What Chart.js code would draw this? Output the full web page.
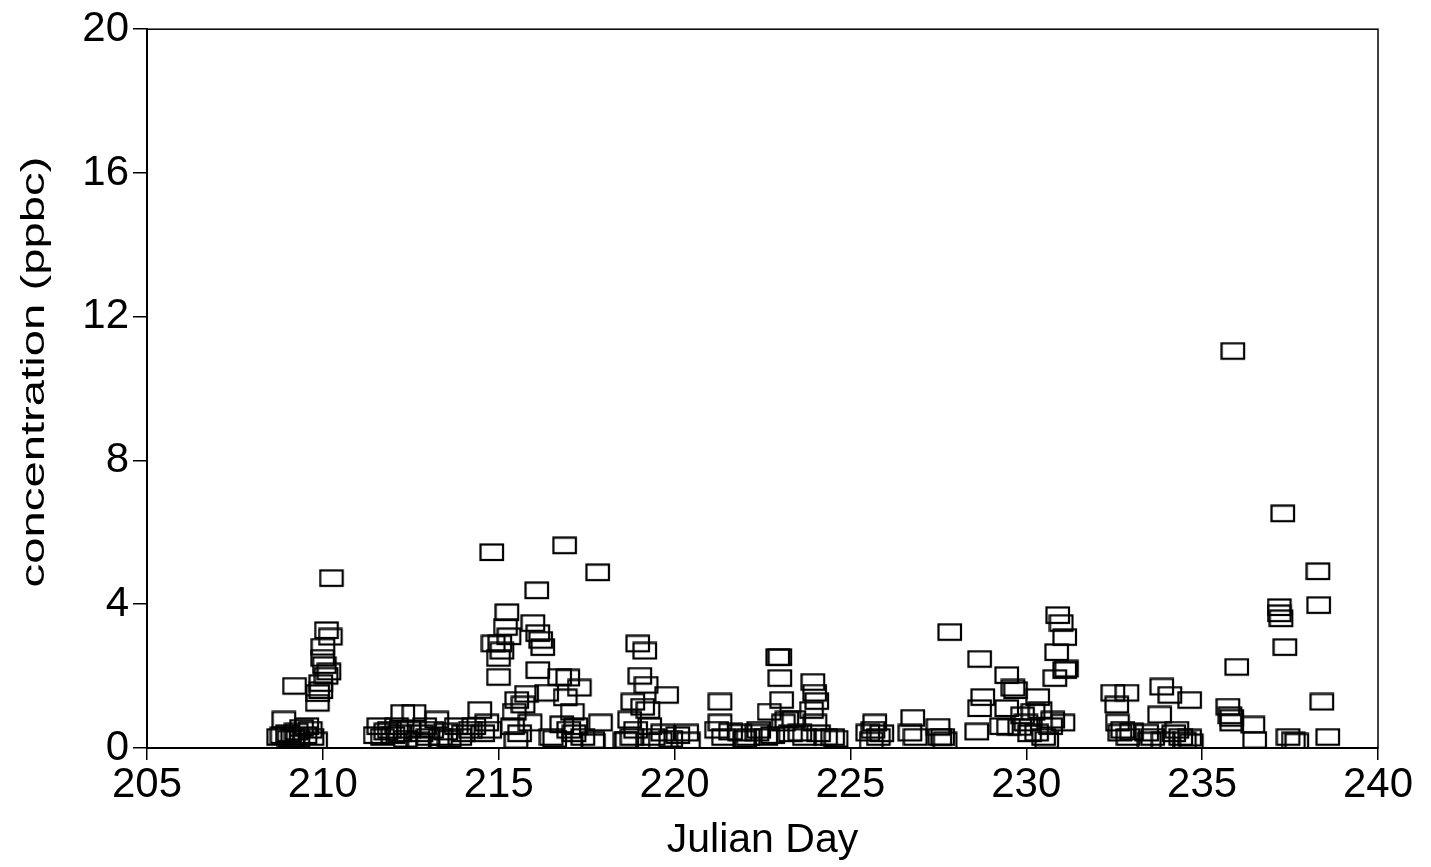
<!DOCTYPE html>
<html>
<head>
<meta charset="utf-8">
<script src="https://cdn.jsdelivr.net/npm/chart.js@4/dist/chart.umd.min.js"></script>
<style>
  html, body { margin: 0; padding: 0; background: #fff; }
  #wrap { width: 1431px; height: 867px; position: relative; }
</style>
</head>
<body>
<div id="wrap"><canvas id="c"></canvas></div>
<script>
// Dzień juliański i stężenie (ppbc), punkt po punkcie.
const days = [
  208.75, 208.85, 208.9, 209.0, 209.05, 209.15, 209.25, 209.3, 209.4, 209.5, 209.55, 209.65, 209.7, 209.8, 209.2,
  209.85, 209.86, 209.95, 210.18, 210.0, 210.01, 210.11, 210.22, 210.25, 210.05, 209.95, 210.1,
  211.5, 211.6, 211.7, 211.8, 211.9, 212.0, 212.1, 212.2, 212.28, 212.35, 212.45, 212.6, 212.7, 212.75, 212.8,
  212.9, 213.0, 213.1, 213.25, 213.35, 213.5, 213.6, 213.8, 213.9, 214.0, 214.2, 214.3, 214.47, 214.55, 214.67, 214.75,
  214.81, 214.85, 215.04, 215.0, 215.1, 215.0, 215.24, 215.2, 215.3, 215.52, 215.45, 215.4, 215.5, 215.6, 215.7,
  215.8, 215.9, 215.98, 216.09, 216.12, 216.26, 216.12, 216.2, 216.37, 216.5, 216.6, 216.74, 216.8, 216.88, 216.9,
  216.97, 217.0, 217.1, 217.15, 217.2, 217.3, 217.4, 217.68, 217.82, 217.9, 217.7,
  218.6, 218.65, 218.73, 218.8, 218.82, 218.9, 218.96, 219.02, 219.1, 219.16, 219.2, 219.25, 219.3, 219.4, 219.6,
  219.67, 219.78, 219.9, 220.1, 220.35, 220.4,
  221.2, 221.3, 221.3, 221.4, 221.6, 221.87, 222.0, 222.1, 222.35, 222.4, 222.6, 222.7, 222.8, 222.94, 223.0,
  223.0, 223.05, 223.1, 223.2, 223.3, 223.4, 223.57, 223.7, 223.9, 223.94, 223.99, 224.0, 224.05, 224.1, 224.3,
  224.5, 224.6,
  225.5, 225.6, 225.65, 225.7, 225.8, 225.9,
  226.7, 226.78, 226.85, 227.5, 227.55, 227.63, 227.7, 227.83,
  228.6, 228.68, 228.68, 228.77, 229.3, 229.45, 229.45, 229.5, 229.63, 229.7, 229.82, 229.9, 230.0, 230.1, 230.2,
  230.3, 230.33, 230.4, 230.5, 230.59, 230.7, 230.76, 230.82, 230.87, 230.9, 231.0, 231.1, 231.1, 231.05, 231.15,
  232.47, 232.58, 232.6, 232.67, 232.75, 232.87, 232.9, 233.0, 233.43, 233.5, 233.6, 233.8, 233.86, 233.9, 234.09,
  234.2, 234.29, 234.4, 234.5, 234.65, 234.65, 234.7,
  235.74, 235.8, 235.85, 235.85, 235.88, 235.99, 236.45, 236.5, 237.2, 237.2, 237.25, 237.3, 237.36, 237.45, 237.6,
  237.7, 238.3, 238.32, 238.41, 238.58
];
const ppbc = [
  0.3, 0.35, 0.78, 0.4, 0.25, 0.3, 0.45, 0.25, 0.55, 0.35, 0.6, 0.5, 0.3, 0.2, 1.72,
  1.25, 1.52, 1.8, 2.12, 2.5, 2.81, 3.27, 3.09, 4.72, 2.3, 1.6, 2.0,
  0.35, 0.6, 0.3, 0.45, 0.5, 0.35, 0.6, 0.4, 0.97, 0.25, 0.5, 0.97, 0.2, 0.1, 0.4,
  0.6, 0.3, 0.5, 0.78, 0.3, 0.45, 0.25, 0.6, 0.3, 0.4, 0.5, 0.6, 1.05, 0.4, 0.7, 0.5,
  5.44, 2.9, 2.9, 2.5, 2.7, 1.97, 3.77, 3.36, 3.1, 1.33, 1.0, 0.6, 0.22, 0.4, 1.2,
  1.5, 0.7, 3.47, 4.38, 3.19, 2.8, 2.16, 3.0, 1.53, 0.3, 0.25, 1.97, 0.65, 5.63, 1.4,
  1.95, 0.5, 1.0, 0.4, 0.6, 1.67, 0.3, 0.22, 4.88, 0.7, 0.15,
  0.2, 0.22, 0.78, 0.3, 1.28, 0.5, 2.9, 2.0, 1.14, 2.7, 1.75, 1.05, 0.6, 0.3, 0.2,
  0.42, 1.47, 0.25, 0.35, 0.42, 0.2,
  0.5, 1.28, 0.7, 0.3, 0.45, 0.42, 0.25, 0.3, 0.42, 0.5, 0.3, 1.0, 0.35, 2.52, 2.52,
  1.94, 1.33, 0.7, 0.78, 0.4, 0.8, 0.42, 0.3, 1.05, 1.83, 1.53, 0.7, 1.3, 0.4, 0.3,
  0.3, 0.25,
  0.42, 0.2, 0.5, 0.7, 0.3, 0.4,
  0.42, 0.83, 0.3, 0.58, 0.3, 0.3, 0.2, 3.22,
  0.45, 1.1, 2.47, 1.41, 0.6, 2.02, 1.1, 0.58, 1.67, 1.6, 0.58, 0.9, 0.7, 0.4, 1.0,
  0.42, 1.41, 1.05, 0.3, 0.22, 0.6, 0.78, 1.94, 2.66, 3.69, 3.47, 3.08, 2.16, 0.7, 2.2,
  1.53, 1.2, 0.7, 0.42, 0.5, 1.53, 0.3, 0.45, 0.42, 0.2, 0.3, 0.92, 1.7, 0.2, 1.47,
  0.4, 0.5, 0.3, 0.2, 1.33, 0.28, 0.15,
  1.14, 0.9, 0.83, 0.7, 11.04, 2.25, 0.64, 0.22, 3.91, 3.74, 3.6, 6.52, 2.8, 0.3, 0.2,
  0.17, 4.91, 3.97, 1.28, 0.3
];
const xTicks = [205, 210, 215, 220, 225, 230, 235, 240];
const yTicks = [0, 4, 8, 12, 16, 20];
const yTitle = "concentration (ppbc)";

// Pusty prostokąt jako znacznik (szerszy niż wyższy, jak w oryginale).
const marker = document.createElement("canvas");
marker.width = 26; marker.height = 19;
const m = marker.getContext("2d");
m.strokeStyle = "#000"; m.lineWidth = 2.2;
m.strokeRect(1.5, 1.5, 22.5, 15.5);

const FONT = "'Liberation Sans', Arial, Helvetica, sans-serif";

// Ramka wokół obszaru wykresu + tytuł osi Y (w oryginale rozciągnięty wzdłuż osi).
const frame = {
  id: "frame",
  afterDraw(chart) {
    const { ctx, chartArea: a } = chart;
    ctx.save();
    ctx.strokeStyle = "#000"; ctx.lineWidth = 1.5;
    ctx.strokeRect(a.left, a.top, a.right - a.left, a.bottom - a.top);
    ctx.translate(44, 372);
    ctx.rotate(-Math.PI / 2);
    ctx.scale(1.39, 1);
    ctx.font = "34px " + FONT;
    ctx.fillStyle = "#000";
    ctx.textAlign = "center"; ctx.textBaseline = "alphabetic";
    ctx.fillText(yTitle, 0, 0);
    ctx.restore();
  },
};

new Chart(document.getElementById("c"), {
  type: "scatter",
  data: {
    datasets: [{
      data: days.map((d, i) => ({ x: d, y: ppbc[i] })),
      pointStyle: marker,
    }],
  },
  options: {
    responsive: true, maintainAspectRatio: false, animation: false,
    layout: { padding: { top: 27, right: 53, left: 0, bottom: 0 } },
    plugins: { legend: { display: false }, tooltip: { enabled: false } },
    scales: {
      x: {
        type: "linear", min: 205, max: 240,
        afterBuildTicks: s => { s.ticks = xTicks.map(v => ({ value: v })); },
        afterFit: s => { s.height = 119; },
        grid: { drawOnChartArea: false, tickLength: 12, tickColor: "#000", lineWidth: 1.5 },
        border: { color: "#000", width: 2 },
        ticks: { color: "#000", font: { family: FONT, size: 42 }, padding: 0, maxRotation: 0 },
        title: { display: true, text: "Julian Day", color: "#000", font: { family: FONT, size: 41 }, padding: { top: 2, bottom: 2 } },
      },
      y: {
        min: 0, max: 20,
        afterBuildTicks: s => { s.ticks = yTicks.map(v => ({ value: v })); },
        afterFit: s => { s.width = 147; },
        grid: { drawOnChartArea: false, tickLength: 14, tickColor: "#000", lineWidth: 1.5 },
        border: { color: "#000", width: 2 },
        ticks: { color: "#000", font: { family: FONT, size: 42 }, padding: 4 },
      },
    },
  },
  plugins: [frame],
});
</script>
</body>
</html>
